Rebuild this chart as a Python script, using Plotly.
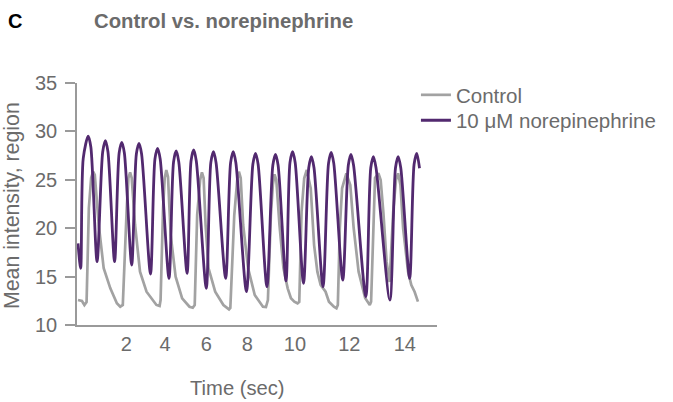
import plotly.graph_objects as go

# ---- data (x in axis time units, y = mean intensity) ----
control_t = [0.048, 0.241, 0.361, 0.467, 0.578, 0.689, 0.786, 0.867, 1.060, 1.301, 1.624, 1.942, 2.106, 2.231,
             2.424, 2.506, 2.588, 2.665, 2.829, 3.070, 3.388, 3.870, 4.024,
             4.072, 4.193, 4.275, 4.352, 4.434, 4.564, 4.805, 5.123, 5.480, 5.639,
             5.735, 5.855, 6.000, 6.087, 6.169, 6.265, 6.410, 6.733, 7.133, 7.407,
             7.470, 7.663, 7.807, 7.889, 7.976, 8.096, 8.337, 8.660, 9.060, 9.205,
             9.301, 9.446, 9.542, 9.624, 9.711, 9.865, 10.058, 10.265, 10.424, 10.588, 10.747,
             10.829, 10.940, 11.070, 11.195, 11.388, 11.552, 11.711, 11.870, 12.111, 12.275, 12.516, 12.641,
             12.708, 12.805, 12.916, 13.123, 13.316, 13.480, 13.720, 13.880, 14.039, 14.265,
             14.328, 14.520, 14.684, 14.795, 14.925, 15.084, 15.229,
             15.407, 15.542, 15.648, 15.759, 15.889, 16.130, 16.289, 16.448, 16.612]
control_v = [12.58, 12.48, 12.07, 12.38, 22.09, 25.19, 25.84, 25.50, 20.33, 15.86, 13.79, 12.24, 11.89, 12.07,
             22.09, 25.19, 25.77, 25.19, 20.33, 15.51, 13.44, 12.07, 11.96,
             12.58, 22.09, 25.19, 26.01, 25.29, 19.30, 15.00, 12.76, 11.89, 11.79,
             12.07, 21.36, 24.98, 25.77, 25.19, 20.33, 15.86, 13.44, 12.07, 11.62,
             11.76, 21.36, 24.98, 25.84, 25.19, 20.33, 15.86, 13.10, 11.89, 11.86,
             12.58, 21.36, 24.46, 25.57, 24.98, 20.33, 15.89, 13.79, 12.76, 12.41, 12.24,
             12.38, 21.70, 25.15, 26.01, 24.12, 18.26, 15.51, 14.13, 13.44, 12.41, 11.89, 11.73,
             12.07, 20.02, 24.12, 25.67, 24.46, 20.02, 15.51, 14.13, 12.79, 12.07,
             12.41, 25.19, 25.67, 24.98, 21.70, 16.54, 14.44,
             21.70, 24.98, 25.67, 24.46, 20.02, 15.51, 14.13, 13.44, 12.41]

norepi_t = [0.048, 0.178, 0.304, 0.545, 0.675,
            0.978, 1.253, 1.383, 1.508,
            1.831, 2.053, 2.183, 2.308,
            2.665, 2.892, 3.022, 3.147,
            3.581, 3.798, 3.928, 4.053,
            4.482, 4.704, 4.834, 4.959,
            5.364, 5.556, 5.687, 5.812,
            6.299, 6.520, 6.651, 6.776,
            7.243, 7.484, 7.614, 7.740,
            8.256, 8.569, 8.699, 8.824,
            9.253, 9.542, 9.672, 9.798,
            10.183, 10.376, 10.506, 10.631,
            11.036, 11.292, 11.422, 11.547,
            11.986, 12.255, 12.386, 12.511,
            12.949, 13.219, 13.349, 13.475,
            14.072, 14.313, 14.443, 14.569,
            15.243, 15.518, 15.648, 15.774,
            16.207, 16.424, 16.554, 16.689]
norepi_v = [18.44, 15.86, 27.22, 29.52, 28.39,
            16.54, 27.90, 29.04, 27.90,
            16.54, 27.77, 28.87, 27.77,
            16.20, 27.67, 28.77, 27.67,
            15.27, 27.15, 28.25, 27.15,
            14.82, 26.84, 27.98, 26.84,
            15.34, 26.94, 28.08, 26.94,
            13.79, 26.77, 27.90, 26.77,
            14.82, 26.77, 27.90, 26.77,
            13.44, 26.60, 27.74, 26.60,
            13.96, 26.50, 27.63, 26.50,
            14.55, 26.77, 27.90, 26.77,
            14.31, 26.25, 27.39, 26.25,
            13.96, 26.70, 27.84, 26.70,
            14.65, 26.50, 27.63, 26.50,
            12.92, 26.25, 27.39, 26.25,
            12.58, 26.25, 27.39, 26.25,
            14.82, 26.60, 27.74, 26.19]

x_tick_vals = [2.40, 4.29, 6.30, 8.30, 10.62, 13.27, 15.97]
x_tick_text = ["2", "4", "6", "8", "10", "12", "14"]
y_tick_vals = [10, 15, 20, 25, 30, 35]

FONT = "Liberation Sans, Arial, sans-serif"
TXT = "#6b6b6b"
AX = "#9a9a9a"

fig = go.Figure()
fig.add_trace(go.Scatter(x=control_t, y=control_v, mode="lines", name="Control",
                         legend="legend",
                         line=dict(color="#a2a2a2", width=2.7)))
fig.add_trace(go.Scatter(x=norepi_t, y=norepi_v, mode="lines", name="10 μM norepinephrine",
                         legend="legend2",
                         line=dict(color="#52296f", width=2.8, shape="spline", smoothing=0.8)))

leg_common = dict(x=0.9415, xanchor="left", yanchor="top",
                  font=dict(size=20.5, color=TXT, family=FONT),
                  bgcolor="rgba(0,0,0,0)", itemwidth=30)

fig.update_layout(
    width=673, height=402,
    margin=dict(l=77, r=232, t=83, b=77),
    plot_bgcolor="white", paper_bgcolor="white",
    font=dict(family=FONT, size=19, color=TXT),
    showlegend=True,
    legend=dict(y=1.033, **leg_common),
    legend2=dict(y=0.928, **leg_common),
    xaxis=dict(range=[0, 17.54], showgrid=False, zeroline=False,
               showline=True, linecolor=AX, linewidth=1.5,
               tickmode="array", tickvals=x_tick_vals, ticktext=x_tick_text,
               ticks="", ticklabelstandoff=0,
               tickfont=dict(size=20, color=TXT)),
    yaxis=dict(range=[10, 35], showgrid=False, zeroline=False,
               showline=True, linecolor=AX, linewidth=1.5,
               tickmode="array", tickvals=y_tick_vals,
               ticks="outside", ticklen=10, tickcolor=AX, tickwidth=1.5,
               ticklabelstandoff=4,
               tickfont=dict(size=20, color=TXT)),
    annotations=[
        dict(text="C", xref="paper", yref="paper", x=-0.197, y=1.258,
             xanchor="left", yanchor="middle", showarrow=False,
             font=dict(size=20, color="black", family=FONT, weight="bold")),
        dict(text="Control vs. norepinephrine", xref="paper", yref="paper",
             x=0.041, y=1.256, xanchor="left", yanchor="middle", showarrow=False,
             font=dict(size=20.3, color=TXT, family=FONT, weight="bold")),
        dict(text="Time (sec)", xref="paper", yref="paper", x=0.4456, y=-0.262,
             xanchor="center", yanchor="middle", showarrow=False,
             font=dict(size=20.2, color=TXT, family=FONT)),
        dict(text="Mean intensity, region", xref="paper", yref="paper", x=-0.181, y=0.495,
             xanchor="center", yanchor="middle", textangle=-90, showarrow=False,
             font=dict(size=21.3, color=TXT, family=FONT)),
    ],
)

fig.write_html("out.html")
